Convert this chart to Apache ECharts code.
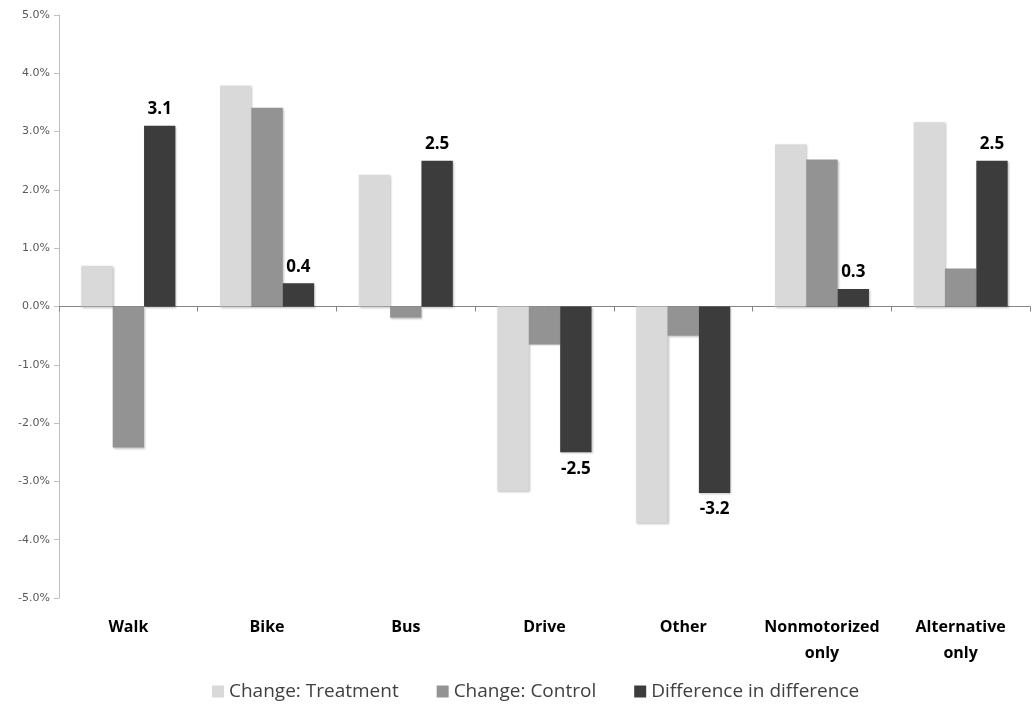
<!DOCTYPE html>
<html>
<head>
<meta charset="utf-8">
<script src="https://cdn.jsdelivr.net/npm/echarts@6/dist/echarts.min.js"></script>
<style>
  html, body { margin: 0; padding: 0; background: #fff; }
  #chart { width: 1033px; height: 707px; }
</style>
</head>
<body>
<div id="chart"></div>
<script>
// travel mode categories
const categories = ['Walk', 'Bike', 'Bus', 'Drive', 'Other', 'Nonmotorized\nonly', 'Alternative\nonly']
// values in percent
const treatment = [0.70, 3.79, 2.26, -3.16, -3.71, 2.78, 3.16]
const control = [-2.42, 3.41, -0.19, -0.65, -0.50, 2.52, 0.65]
const diffInDiff = [3.1, 0.4, 2.5, -2.5, -3.2, 0.3, 2.5]
const yTicks = { min: -5, max: 5, step: 1 }

const chart = echarts.init(document.getElementById('chart'))

const barShadow = {
  shadowColor: 'rgba(0,0,0,0.25)',
  shadowBlur: 2,
  shadowOffsetX: 1,
  shadowOffsetY: 1
}

chart.setOption({
  animation: false,
  grid: {
    left: 59,
    right: 3,
    top: 15,
    bottom: 109
  },
  legend: {
    bottom: 1,
    left: 207,
    icon: 'rect',
    itemWidth: 12,
    itemHeight: 12,
    itemGap: 38,
    textStyle: {
      fontFamily: 'Open Sans',
      fontSize: 19,
      color: '#404040'
    },
    data: ['Change: Treatment', 'Change: Control', 'Difference in difference']
  },
  xAxis: [
    {
      type: 'category',
      data: categories,
      axisLine: {
        onZero: true,
        lineStyle: { color: '#868686', width: 1 }
      },
      axisTick: {
        show: true,
        length: 5,
        lineStyle: { color: '#868686' }
      },
      axisLabel: { show: false }
    },
    {
      type: 'category',
      data: categories,
      position: 'bottom',
      axisLine: { show: false, onZero: false },
      axisTick: { show: false },
      axisLabel: {
        interval: 0,
        margin: 16,
        fontFamily: 'Open Sans',
        fontWeight: 'bold',
        fontSize: 16,
        lineHeight: 26,
        color: '#000'
      }
    }
  ],
  yAxis: {
    type: 'value',
    min: yTicks.min,
    max: yTicks.max,
    interval: yTicks.step,
    axisLine: {
      show: true,
      lineStyle: { color: '#bfbfbf' }
    },
    axisTick: {
      show: true,
      length: 5,
      lineStyle: { color: '#bfbfbf' }
    },
    splitLine: { show: false },
    axisLabel: {
      margin: 9,
      fontFamily: 'DejaVu Sans',
      fontSize: 11,
      color: '#595959',
      formatter: v => v.toFixed(1) + '%'
    }
  },
  series: [
    {
      name: 'Change: Treatment',
      type: 'bar',
      barWidth: '22.6%',
      barGap: '0%',
      itemStyle: Object.assign({ color: '#d9d9d9' }, barShadow),
      data: treatment
    },
    {
      name: 'Change: Control',
      type: 'bar',
      barWidth: '22.6%',
      barGap: '0%',
      itemStyle: Object.assign({ color: '#939393' }, barShadow),
      data: control
    },
    {
      name: 'Difference in difference',
      type: 'bar',
      barWidth: '22.6%',
      barGap: '0%',
      itemStyle: Object.assign({ color: '#3c3c3c' }, barShadow),
      label: {
        show: true,
        position: 'outside',
        distance: 8,
        fontFamily: 'Open Sans',
        fontWeight: 'bold',
        fontSize: 17,
        color: '#000',
        formatter: p => p.value.toFixed(1)
      },
      data: diffInDiff
    }
  ]
})
</script>
</body>
</html>
